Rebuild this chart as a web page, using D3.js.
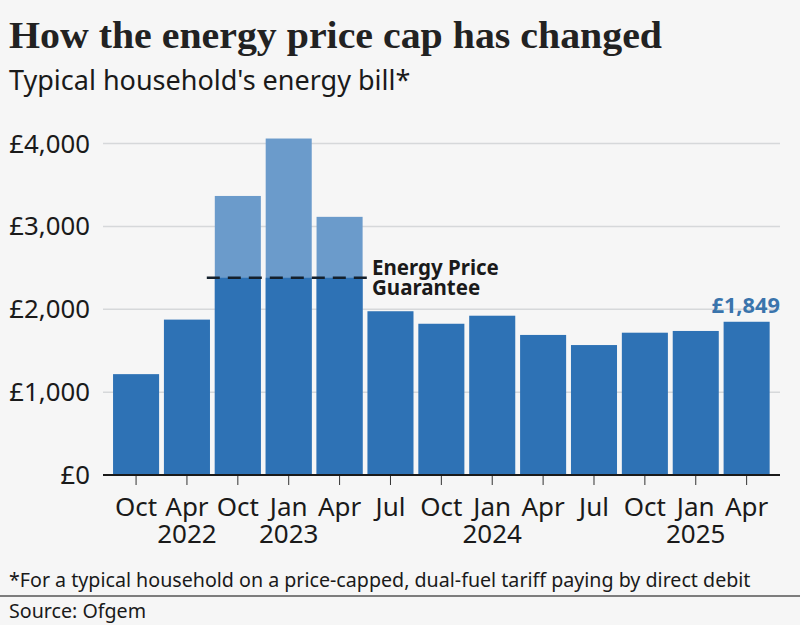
<!DOCTYPE html>
<html><head><meta charset="utf-8">
<script src="https://cdn.jsdelivr.net/npm/d3@7"></script>
<style>html,body{margin:0;padding:0;background:#f6f6f6}svg{display:block}text{font-family:"Noto Sans",sans-serif}</style>
</head><body><svg id="c" width="800" height="625"></svg>
<script>
const periods=["Oct 2021","Apr 2022","Oct 2022","Jan 2023","Apr 2023","Jul 2023","Oct 2023","Jan 2024","Apr 2024","Jul 2024","Oct 2024","Jan 2025","Apr 2025"];
const monthLabels=["Oct","Apr","Oct","Jan","Apr","Jul","Oct","Jan","Apr","Jul","Oct","Jan","Apr"];
const yearLabels=["","2022","","2023","","","","2024","","","","2025",""];
const capValues=[1217,1875,3367,4060,3115,1976,1825,1922,1690,1568,1717,1738,1849];
const guaranteeLevel=2380;
const guaranteePeriods=["Oct 2022","Jan 2023","Apr 2023"];
const yTicks=[0,1000,2000,3000,4000];
const svg=d3.select("#c");
const x=d3.scaleBand().domain(periods).range([110.5,772.2]).paddingInner(0.095).paddingOuter(0.05);
const y=d3.scaleLinear().domain([0,4000]).range([475,143.5]);
const DARK="#2e72b5",LIGHT="#6b9bcb",INK="#1a1a1a";
svg.append("g").selectAll("line").data(yTicks.filter(d=>d>0)).join("line")
 .attr("x1",103).attr("x2",780).attr("y1",d=>y(d)).attr("y2",d=>y(d)).attr("stroke","#d6d8da").attr("stroke-width",1.5);
svg.append("g").selectAll("text").data(yTicks).join("text")
 .attr("x",90).attr("y",d=>y(d)+9).attr("text-anchor","end").attr("font-size",25.8).attr("fill",INK)
 .text(d=>"£"+d3.format(",")(d));
const vals=periods.map((p,i)=>({p,v:capValues[i],g:guaranteePeriods.includes(p)}));
svg.append("g").selectAll("rect").data(vals.filter(d=>d.g)).join("rect")
 .attr("x",d=>x(d.p)).attr("width",x.bandwidth()).attr("y",d=>y(d.v)).attr("height",d=>y(0)-y(d.v)).attr("fill",LIGHT);
svg.append("g").selectAll("rect").data(vals).join("rect")
 .attr("x",d=>x(d.p)).attr("width",x.bandwidth())
 .attr("y",d=>y(d.g?guaranteeLevel:d.v)).attr("height",d=>y(0)-y(d.g?guaranteeLevel:d.v)).attr("fill",DARK);
svg.append("line").attr("x1",x("Oct 2022")-8).attr("x2",x("Apr 2023")+x.bandwidth()+5)
 .attr("y1",y(guaranteeLevel)).attr("y2",y(guaranteeLevel)).attr("stroke","#14202c").attr("stroke-width",2.4).attr("stroke-dasharray","13 8");
const ax=d3.axisBottom(x).tickSize(10).tickSizeOuter(0).tickFormat("");
const axG=svg.append("g").attr("transform","translate(0,475)").call(ax);
axG.select(".domain").remove();
axG.selectAll("line").attr("stroke","#333").attr("stroke-width",1);
svg.append("line").attr("x1",103).attr("x2",780).attr("y1",475).attr("y2",475).attr("stroke",INK).attr("stroke-width",2.2);
const cx=p=>x(p)+x.bandwidth()/2;
const tl=svg.append("g").selectAll("text").data(periods).join("text").attr("text-anchor","middle").attr("font-size",26).attr("fill",INK);
tl.append("tspan").attr("x",cx).attr("y",516).text((d,i)=>monthLabels[i]);
tl.append("tspan").attr("x",cx).attr("y",543).text((d,i)=>yearLabels[i]);
const note=svg.append("text").attr("font-size",20.5).attr("font-weight",700).attr("fill",INK);
note.append("tspan").attr("x",372).attr("y",275).text("Energy Price");
note.append("tspan").attr("x",372).attr("y",295).text("Guarantee");
svg.append("text").attr("x",780).attr("y",313).attr("text-anchor","end").attr("font-size",21.8).attr("font-weight",700).attr("fill","#3a74ac").text("£"+d3.format(",")(capValues[12]));
svg.append("text").attr("x",9).attr("y",48).style("font-family","'Liberation Serif'").attr("font-size",37).attr("font-weight",700).attr("fill","#222").attr("textLength",653).attr("lengthAdjust","spacingAndGlyphs").text("How the energy price cap has changed");
svg.append("text").attr("x",9).attr("y",90).attr("font-size",27).attr("fill",INK).text("Typical household's energy bill*");
svg.append("text").attr("x",9).attr("y",587).attr("font-size",19.65).attr("fill",INK).text("*For a typical household on a price-capped, dual-fuel tariff paying by direct debit");
svg.append("line").attr("x1",0).attr("x2",800).attr("y1",596).attr("y2",596).attr("stroke","#555").attr("stroke-width",1.5);
svg.append("text").attr("x",9).attr("y",618).attr("font-size",19.65).attr("fill",INK).text("Source: Ofgem");
</script></body></html>
